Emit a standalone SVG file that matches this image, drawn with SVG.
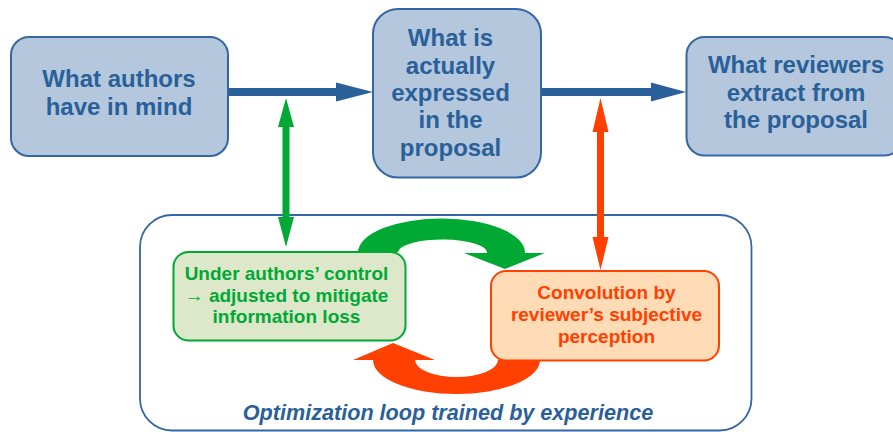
<svg xmlns="http://www.w3.org/2000/svg" width="893" height="432" viewBox="0 0 893 432">
<style>
.bbox{fill:#b4c7dc;stroke:#3465a4;stroke-width:2}
.bt{font-family:"Liberation Sans",Arial,sans-serif;font-weight:bold;font-size:24px;fill:#2a6099;text-anchor:middle}
.gt{font-family:"Liberation Sans",Arial,sans-serif;font-weight:bold;font-size:19px;fill:#00a933;text-anchor:middle}
.ot{font-family:"Liberation Sans",Arial,sans-serif;font-weight:bold;font-size:19px;fill:#ff4000;text-anchor:middle}
.cap{font-family:"Liberation Sans",Arial,sans-serif;font-weight:bold;font-style:italic;font-size:21.6px;fill:#2a6099;text-anchor:middle}
</style>
<rect width="893" height="432" fill="#ffffff"/>
<g id="loop">
<rect x="140" y="215" width="611.5" height="215.5" rx="32" fill="#ffffff" stroke="#3465a4" stroke-width="1.8"/>
<text class="cap" x="448" y="420">Optimization loop trained by experience</text>
</g>
<g id="connectors">
<path d="M228,88 H336 V82.5 L373,92 L336,101.5 V96 H228 Z" fill="#2a6099"/>
<path d="M541,88 H651 V82.5 L686,92 L651,101.5 V96 H541 Z" fill="#2a6099"/>
<path d="M286,98 L294,127 H289.5 V217 H294 L286,247 L278,217 H282.5 V127 H278 Z" fill="#00a933"/>
<path d="M600.5,98 L608.5,132 H604 V237 H608.5 L600.5,270 L592.5,237 H597 V132 H592.5 Z" fill="#ff4000"/>
<path d="M358,252 A83.5,34 0 0 1 525,253 L545,253 L505,269 L464,253 L487,253 A44.5,13 0 0 0 398,252 Z" fill="#00a933"/>
<path d="M540,360 A83.5,34 0 0 1 373,360 L353,360 L393,343 L435,360 L415,360 A41.5,17 0 0 0 498,360 Z" fill="#ff4000"/>
</g>
<g id="authors">
<rect class="bbox" x="11" y="37" width="217" height="119" rx="18"/>
<text class="bt" x="119" y="87">What authors</text>
<text class="bt" x="119" y="115">have in mind</text>
</g>
<g id="expressed">
<rect class="bbox" x="373" y="9" width="168" height="168.5" rx="25"/>
<text class="bt" x="450.5" y="46">What is</text>
<text class="bt" x="450.5" y="73.5">actually</text>
<text class="bt" x="450.5" y="100.8">expressed</text>
<text class="bt" x="450.5" y="128.3">in the</text>
<text class="bt" x="450.5" y="155.7">proposal</text>
</g>
<g id="reviewers">
<rect class="bbox" x="686.5" y="37" width="216" height="118.5" rx="18"/>
<text class="bt" x="796" y="73">What reviewers</text>
<text class="bt" x="796" y="100.7">extract from</text>
<text class="bt" x="796" y="128.3">the proposal</text>
</g>
<g id="control">
<rect x="173.5" y="252" width="232" height="88.5" rx="15" fill="#dde8cb" stroke="#00a933" stroke-width="2"/>
<text class="gt" x="286.5" y="280">Under authors’ control</text>
<text class="gt" x="286.5" y="301.7">→ adjusted to mitigate</text>
<text class="gt" x="286.5" y="322.7">information loss</text>
</g>
<g id="convolution">
<rect x="491" y="271" width="228" height="89.5" rx="15" fill="#ffdbb6" stroke="#ff4000" stroke-width="2"/>
<text class="ot" x="606.5" y="299">Convolution by</text>
<text class="ot" x="606.5" y="321">reviewer’s subjective</text>
<text class="ot" x="606.5" y="342.7">perception</text>
</g>
</svg>
